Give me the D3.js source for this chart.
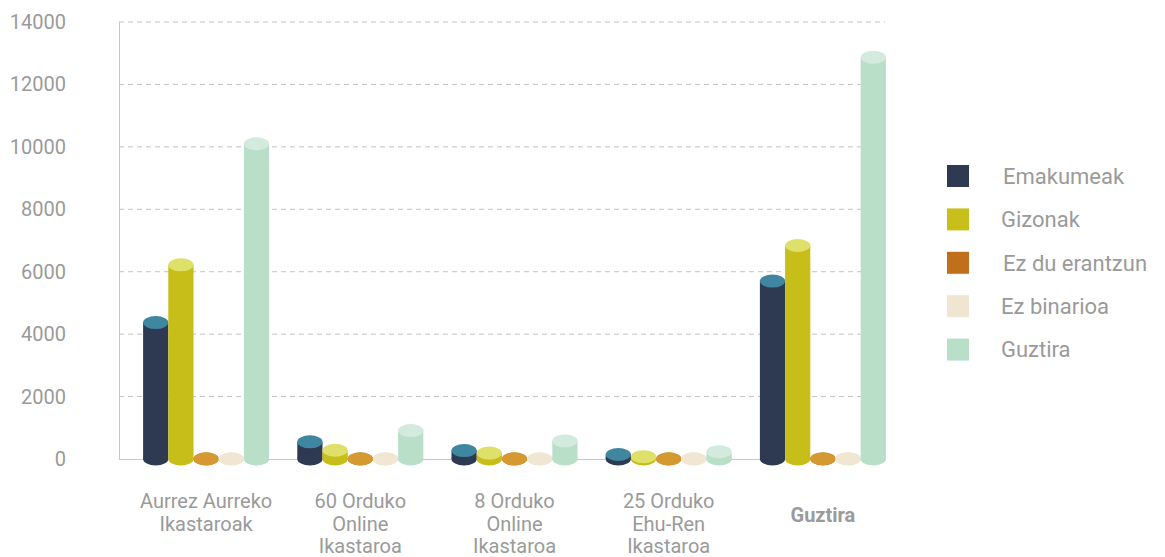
<!DOCTYPE html>
<meta charset="utf-8">
<head>
    <script src="https://d3js.org/d3.v7.min.js"></script>
    <style>
        body { margin: 0; background: white; }
        text { font-family: Roboto, "Open Sans", sans-serif; fill: #9a9a9a; }
    </style>
</head>
<body>
<div id="my_dataviz"></div>
<script>
    // data
    const categories = [
        ["Aurrez Aurreko", "Ikastaroak"],
        ["60 Orduko", "Online", "Ikastaroa"],
        ["8 Orduko", "Online", "Ikastaroa"],
        ["25 Orduko", "Ehu-Ren", "Ikastaroa"],
        ["Guztira"]
    ];
    const seriesNames = ["Emakumeak", "Gizonak", "Ez du erantzun", "Ez binarioa", "Guztira"];
    const emakumeak = [4370, 550, 270, 145, 5700];
    const gizonak = [6220, 280, 190, 75, 6840];
    const ezDuErantzun = [5, 5, 5, 5, 10];
    const ezBinarioa = [5, 5, 5, 5, 10];
    const guztira = [10100, 910, 580, 235, 12870];
    const yTicks = [0, 2000, 4000, 6000, 8000, 10000, 12000, 14000];

    const sideColors = ["#2e3a52", "#c8be1a", "#c0701a", "#f0e5d0", "#badfc9"];
    const topColors = ["#3f86a0", "#dfe06a", "#d49a31", "#f1e6d2", "#d3eadf"];
    const legendColors = ["#2e3a52", "#c8bf1a", "#c0701a", "#f0e5d0", "#badfc9"];

    const seriesValues = [emakumeak, gizonak, ezDuErantzun, ezBinarioa, guztira];

    const svg = d3.select("#my_dataviz").append("svg")
        .attr("width", 1165)
        .attr("height", 557)

    const y = d3.scaleLinear()
        .domain([0, 14000])
        .range([459, 22])

    const x0 = d3.scaleBand()
        .domain(d3.range(categories.length))
        .range([129, 900])

    const groupWidth = 126
    const x1 = d3.scaleBand()
        .domain(d3.range(seriesNames.length))
        .range([(x0.bandwidth() - groupWidth) / 2, (x0.bandwidth() + groupWidth) / 2])

    // grid lines
    svg.append("g")
        .selectAll("line")
        .data(yTicks.filter(d => d > 0))
        .enter()
        .append("line")
        .attr("x1", 119)
        .attr("x2", 885)
        .attr("y1", d => y(d))
        .attr("y2", d => y(d))
        .attr("stroke", "#c4c4c4")
        .attr("stroke-width", 1)
        .attr("stroke-dasharray", "5,4")

    // axis lines
    svg.append("line")
        .attr("x1", 119.5).attr("x2", 119.5)
        .attr("y1", y(14000)).attr("y2", y(0))
        .attr("stroke", "#c8c8c8")
    svg.append("line")
        .attr("x1", 119).attr("x2", 885)
        .attr("y1", y(0) + 0.5).attr("y2", y(0) + 0.5)
        .attr("stroke", "#c8c8c8")

    // y tick labels
    svg.append("g")
        .selectAll("text")
        .data(yTicks)
        .enter()
        .append("text")
        .attr("x", 66)
        .attr("y", d => y(d))
        .attr("dy", "0.35em")
        .attr("text-anchor", "end")
        .style("font-size", "20px")
        .text(d => d)

    // cylinders
    const ry = 6.5
    const bars = []
    categories.forEach((c, i) => {
        seriesValues.forEach((vals, j) => {
            bars.push({ cat: i, ser: j, value: vals[i] })
        })
    })

    const bar = svg.append("g")
        .selectAll("g")
        .data(bars)
        .enter()
        .append("g")
        .attr("transform", d => `translate(${x0(d.cat) + x1(d.ser)}, 0)`)

    const w = x1.bandwidth()

    bar.append("ellipse")
        .attr("cx", w / 2)
        .attr("cy", y(0))
        .attr("rx", w / 2)
        .attr("ry", ry)
        .attr("fill", d => sideColors[d.ser])

    bar.append("rect")
        .attr("x", 0)
        .attr("width", w)
        .attr("y", d => y(d.value))
        .attr("height", d => y(0) - y(d.value))
        .attr("fill", d => sideColors[d.ser])

    bar.append("ellipse")
        .attr("cx", w / 2)
        .attr("cy", d => y(d.value))
        .attr("rx", w / 2)
        .attr("ry", ry)
        .attr("fill", d => topColors[d.ser])

    // category labels
    const catLabel = svg.append("g")
        .selectAll("text")
        .data(categories)
        .enter()
        .append("text")
        .attr("x", (d, i) => x0(i) + x0.bandwidth() / 2)
        .attr("y", d => d.length === 1 ? 522 : 508)
        .attr("text-anchor", "middle")
        .style("font-size", "20px")
        .style("font-weight", d => d.length === 1 ? "bold" : "normal")

    catLabel.selectAll("tspan")
        .data(d => d)
        .enter()
        .append("tspan")
        .attr("x", function () { return d3.select(this.parentNode).attr("x") })
        .attr("dy", (d, i) => i === 0 ? 0 : 22.5)
        .text(d => d)

    // legend
    const legend = svg.append("g")
        .attr("class", "legend")

    legend.selectAll("rect")
        .data(seriesNames)
        .enter()
        .append("rect")
        .attr("x", 947)
        .attr("y", (d, i) => 165 + i * 43.4)
        .attr("width", 22)
        .attr("height", 22)
        .attr("fill", (d, i) => legendColors[i])

    legend.selectAll("text")
        .data(seriesNames)
        .enter()
        .append("text")
        .attr("x", (d, i) => i === 0 || i === 2 ? 1003 : 1001)
        .attr("y", (d, i) => 176 + i * 43.4)
        .attr("dy", "0.35em")
        .style("font-size", "22px")
        .text(d => d)
</script>
</body>
